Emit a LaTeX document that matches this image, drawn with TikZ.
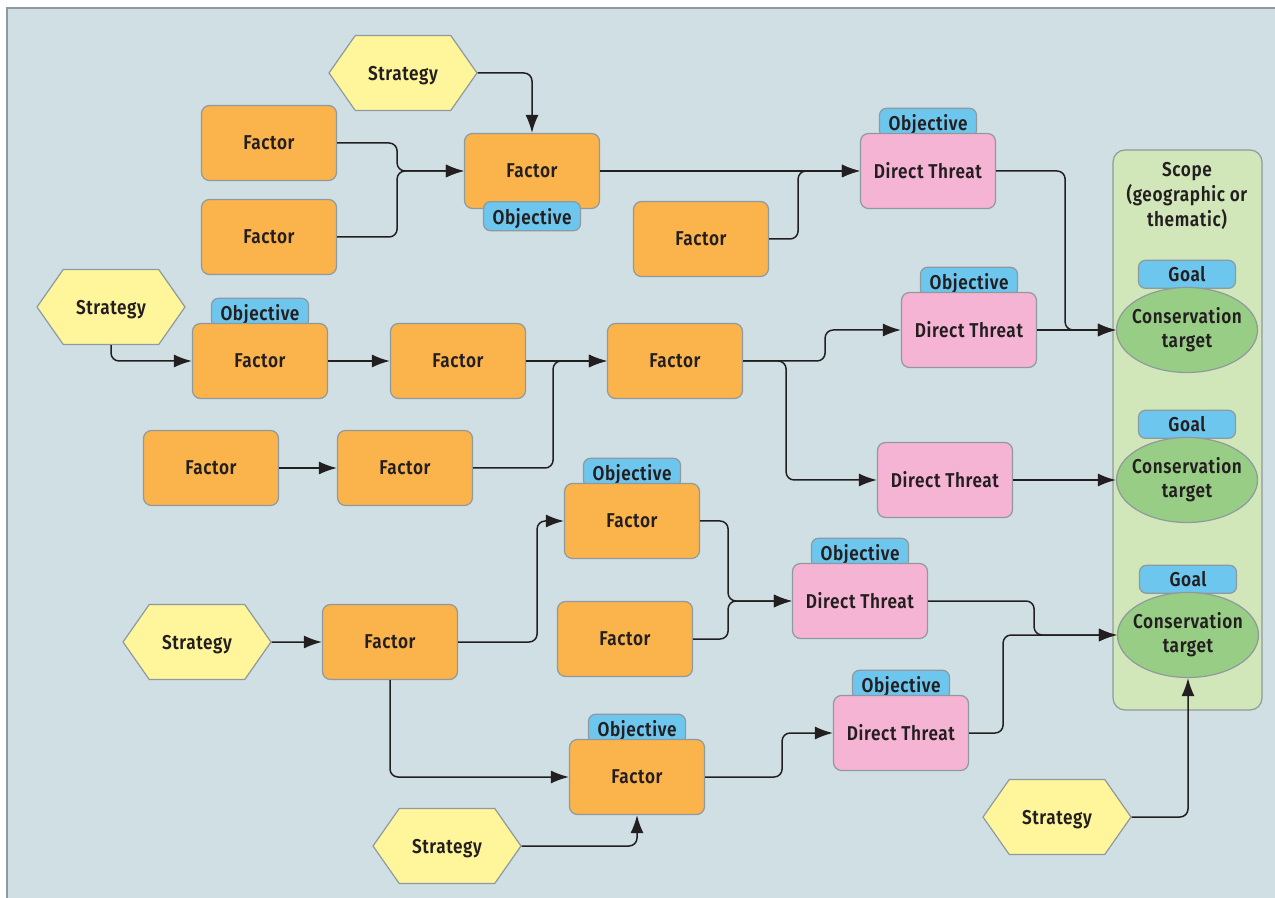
\documentclass[tikz,border=0pt]{standalone}
\usepackage{fontspec}
\setmainfont{Fira Sans}[FakeStretch=0.86, LetterSpace=3, BoldFont={Fira Sans SemiBold}]
\usepackage{xcolor}
\usepackage{tikz}
\usetikzlibrary{shapes.geometric,shapes.symbols,arrows.meta,positioning}

\definecolor{bgblue}{HTML}{D0DFE4}
\definecolor{edgegray}{HTML}{8E9A9E}
\definecolor{factorc}{HTML}{FBB34C}
\definecolor{threatc}{HTML}{F6B4D4}
\definecolor{tabc}{HTML}{6DC6EE}
\definecolor{stratc}{HTML}{FFF59B}
\definecolor{targetc}{HTML}{98CD86}
\definecolor{scopec}{HTML}{D1E6B9}
\definecolor{ink}{HTML}{231F20}

\pgfdeclarelayer{bg}
\pgfdeclarelayer{back}
\pgfsetlayers{bg,back,main}

\tikzset{
  box/.style={draw=edgegray, line width=0.6pt, rounded corners=4pt, minimum width=67.5pt,
    minimum height=37.5pt, inner sep=0pt, text=ink, font=\fontsize{10}{12}\selectfont\bfseries},
  factor/.style={box, fill=factorc},
  threat/.style={box, fill=threatc},
  tab/.style={box, fill=tabc, rounded corners=3.5pt, minimum width=48.5pt, minimum height=14.5pt,
    text depth=0pt},
  strat/.style={box, fill=stratc, rounded corners=0pt, shape=signal, signal to=east and west,
    signal pointer angle=110, minimum width=74pt, text depth=0pt},
  target/.style={box, fill=targetc, shape=ellipse, minimum width=70.5pt, minimum height=42.5pt,
    inner xsep=-4pt, align=center, rounded corners=0pt},
  link/.style={draw=ink, line width=0.75pt, rounded corners=4pt, -{Latex[length=9pt,width=6.5pt]}},
}

\begin{document}
\begin{tikzpicture}[x=0.5pt, y=-0.5pt]
  \useasboundingbox (0,0) rectangle (1275,898);
  \begin{pgfonlayer}{bg}
    \fill[white] (0,0) rectangle (1275,898);
    \fill[bgblue] (7,8) rectangle (1275,898);
    \draw[edgegray, line width=1pt] (7,898) -- (7,8) -- (1275,8);
    % scope
    \node[box, fill=scopec, rounded corners=6pt, minimum width=74.5pt, minimum height=280pt]
      (scope) at (1187.5,430) {};
  \end{pgfonlayer}
  \node[align=center, text=ink, font=\fontsize{10}{12.5}\selectfont\bfseries]
    (scopetxt) at (1187,196) {Scope\\(geographic or\\thematic)};

  % strategies
  \node[strat] (strat1) at (403,73) {Strategy};
  \node[strat] (strat2) at (111,307) {Strategy};
  \node[strat] (strat3) at (197,642) {Strategy};
  \node[strat] (strat4) at (447,846) {Strategy};
  \node[strat] (strat5) at (1057,817) {Strategy};

  % factors
  \node[factor] (fac1) at (269,143) {Factor};
  \node[factor] (fac2) at (269,237) {Factor};
  \node[factor] (fac3) at (532,171) {Factor};
  \node[factor] (fac4) at (701,239) {Factor};
  \node[factor] (fac5) at (260,361) {Factor};
  \node[factor] (fac6) at (458,361) {Factor};
  \node[factor] (fac7) at (675,361) {Factor};
  \node[factor] (fac8) at (211,468) {Factor};
  \node[factor] (fac9) at (405,468) {Factor};
  \node[factor] (fac10) at (632,521) {Factor};
  \node[factor] (fac11) at (390,642) {Factor};
  \node[factor] (fac12) at (625,639) {Factor};
  \node[factor] (fac13) at (637,777) {Factor};

  % direct threats
  \node[threat] (thr1) at (928,171) {Direct Threat};
  \node[threat] (thr2) at (969,330) {Direct Threat};
  \node[threat] (thr3) at (945,480) {Direct Threat};
  \node[threat] (thr4) at (860,601) {Direct Threat};
  \node[threat] (thr5) at (901,733) {Direct Threat};

  % targets
  \node[target] (tgt1) at (1187,330) {Conservation\\target};
  \node[target] (tgt2) at (1187,480) {Conservation\\target};
  \node[target] (tgt3) at (1188,635) {Conservation\\target};

  % objectives and goals
  \node[tab, below=-4pt of fac3] (obj3) {Objective};
  \begin{pgfonlayer}{back}
    \node[tab, above=-2.5pt of fac5] (obj5) {Objective};
    \node[tab, above=-2.5pt of fac10] (obj10) {Objective};
    \node[tab, above=-2.5pt of fac13] (obj13) {Objective};
    \node[tab, above=-2.5pt of thr1] (objt1) {Objective};
    \node[tab, above=-2.5pt of thr2] (objt2) {Objective};
    \node[tab, above=-2.5pt of thr4] (objt4) {Objective};
    \node[tab, above=-2.5pt of thr5] (objt5) {Objective};
    \node[tab, above=-1pt of tgt1, minimum height=14pt] (goal1) {Goal};
    \node[tab, above=-1pt of tgt2, minimum height=14pt] (goal2) {Goal};
    \node[tab, above=-1pt of tgt3, minimum height=14pt] (goal3) {Goal};
  \end{pgfonlayer}

  % links
  \draw[link] (strat1.east) -| (fac3.north);
  \draw[link] (fac1.east) -- ++(60,0) |- (fac3.west);
  \draw[link] (fac2.east) -- ++(60,0) |- (fac3.west);
  \draw[link] (fac3) -- (thr1);
  \draw[link] (fac4.east) -- ++(29,0) |- (thr1.west);
  \draw[link] (thr1.east) -- ++(69,0) |- (tgt1.west);
  \draw[link] (strat2.south) |- (fac5.west);
  \draw[link] (fac5) -- (fac6);
  \draw[link] (fac6) -- (fac7);
  \draw[link] (fac8) -- (fac9);
  \draw[link] (fac9.east) -- ++(80,0) |- (fac7.west);
  \draw[link] (fac7.east) -- ++(82,0) |- (thr2.west);
  \draw[link] (fac7.east) -- ++(43,0) |- (thr3.west);
  \draw[link] (thr2) -- (tgt1);
  \draw[link] (thr3) -- (tgt2);
  \draw[link] (strat3) -- (fac11);
  \draw[link] (fac11.east) -- ++(79,0) |- (fac10.west);
  \draw[link] (fac11.south) |- (fac13.west);
  \draw[link] (fac10.east) -- ++(28,0) |- (thr4.west);
  \draw[link] (fac12.east) -- ++(35,0) |- (thr4.west);
  \draw[link] (thr4.east) -- ++(106,0) |- (tgt3.west);
  \draw[link] (thr5.east) -- ++(34,0) |- (tgt3.west);
  \draw[link] (fac13.east) -- ++(77,0) |- (thr5.west);
  \draw[link] (strat4.east) -| (fac13.south);
  \draw[link] (strat5.east) -| (tgt3.south);
\end{tikzpicture}
\end{document}
